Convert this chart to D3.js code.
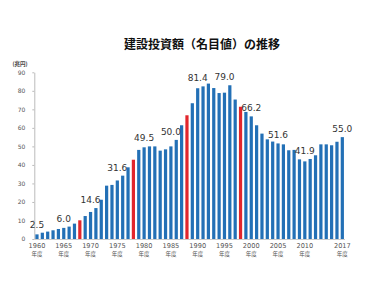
<!DOCTYPE html>
<html>
<head>
<meta charset="utf-8">
<script src="https://cdn.jsdelivr.net/npm/d3@7"></script>
<style>
	body { margin: 0; background: #fff; }
	svg { display: block; }
</style>
</head>
<body>
<div id="chart"></div>
<script>
// fiscal years shown as bars
var years = d3.range(1960, 2018);

// construction investment, nominal (trillion yen)
var values = [
	2.5, 3.4, 4.0, 4.7, 5.4,
	6.0, 6.7, 8.3, 10.1, 12.4,
	14.6, 16.7, 21.2, 28.8, 29.2,
	31.6, 34.2, 38.7, 42.8, 48.1,
	49.5, 50.0, 50.0, 47.7, 48.4,
	50.0, 53.5, 61.4, 66.8, 73.3,
	81.4, 82.4, 83.9, 81.5, 78.8,
	79.0, 83.0, 75.3, 71.4, 68.6,
	66.2, 61.4, 56.9, 53.8, 52.6,
	51.6, 51.1, 47.9, 48.1, 43.0,
	41.9, 43.2, 45.2, 51.1, 51.1,
	50.6, 52.5, 55.0
];

var redYears = [1968, 1978, 1988, 1998];
var labelYears = [1960, 1965, 1970, 1975, 1980, 1985, 1990, 1995, 2000, 2005, 2010, 2017];
var tickYears = [1960, 1965, 1970, 1975, 1980, 1985, 1990, 1995, 2000, 2005, 2010, 2017];
var yTicks = [0, 10, 20, 30, 40, 50, 60, 70, 80, 90];

var title = "建設投資額（名目値）の推移";
var unit = "(兆円)";
var yearSuffix = "年度";

var width = 384, height = 298;

var svg = d3.select("#chart").append("svg")
	.attr("width", width)
	.attr("height", height);

var x = d3.scaleBand()
	.domain(years)
	.range([34.3, 345])
	.paddingInner(0.4)
	.paddingOuter(0.2);

var y = d3.scaleLinear()
	.domain([0, 90])
	.range([239, 72.3]);

// title
svg.append("text")
	.attr("x", 202)
	.attr("y", 43)
	.attr("dominant-baseline", "central")
	.attr("text-anchor", "middle")
	.attr("font-family", "'Noto Sans CJK JP', sans-serif")
	.attr("font-weight", "bold")
	.attr("font-size", "12px")
	.attr("fill", "#111")
	.text(title);

// unit
svg.append("text")
	.attr("x", 20)
	.attr("y", 64)
	.attr("dominant-baseline", "central")
	.attr("text-anchor", "middle")
	.attr("font-family", "'Noto Sans CJK JP', sans-serif")
	.attr("font-weight", "bold")
	.attr("font-size", "5.5px")
	.attr("fill", "#444")
	.text(unit);

// y axis
var yAxis = svg.append("g")
	.attr("transform", "translate(" + x.range()[0] + ",0)")
	.call(d3.axisLeft(y).tickValues(yTicks).tickSize(2).tickPadding(7).tickSizeOuter(0));
yAxis.select(".domain").attr("stroke", "#bbb");
yAxis.selectAll(".tick line").attr("stroke", "#bbb");
yAxis.selectAll("text")
	.attr("font-family", "'DejaVu Sans', sans-serif")
	.attr("font-size", "6px")
	.attr("fill", "#555");

// baseline
svg.append("line")
	.attr("x1", x.range()[0])
	.attr("x2", x.range()[1])
	.attr("y1", y(0) + 0.5)
	.attr("y2", y(0) + 0.5)
	.attr("stroke", "#ccc");

// bars
svg.selectAll("rect.bar")
	.data(years)
	.enter().append("rect")
	.attr("class", "bar")
	.attr("x", function(d) { return x(d); })
	.attr("width", x.bandwidth())
	.attr("y", function(d, i) { return y(values[i]); })
	.attr("height", function(d, i) { return y(0) - y(values[i]); })
	.attr("fill", function(d) { return redYears.indexOf(d) >= 0 ? "#e2262c" : "#2370b6"; });

// value labels, lifted above the taller of the bar and its right neighbour
svg.selectAll("text.val")
	.data(labelYears)
	.enter().append("text")
	.attr("class", "val")
	.attr("x", function(d) { return x(d) + x.bandwidth() / 2; })
	.attr("y", function(d) {
		var i = years.indexOf(d);
		var v = values[i];
		if (i + 1 < values.length) v = Math.max(v, values[i + 1]);
		return y(v) - 8;
	})
	.attr("dominant-baseline", "central")
	.attr("text-anchor", "middle")
	.attr("font-family", "'DejaVu Sans', sans-serif")
	.attr("font-size", "9px")
	.attr("fill", "#333")
	.text(function(d) { return values[years.indexOf(d)].toFixed(1); });

// x tick labels
var xt = svg.selectAll("g.xt")
	.data(tickYears)
	.enter().append("g")
	.attr("class", "xt")
	.attr("transform", function(d) { return "translate(" + (x(d) + x.bandwidth() / 2) + ",0)"; });

xt.append("text")
	.attr("y", 245.7)
	.attr("dominant-baseline", "central")
	.attr("text-anchor", "middle")
	.attr("font-family", "'DejaVu Sans', sans-serif")
	.attr("font-size", "6.6px")
	.attr("fill", "#555")
	.text(function(d) { return d; });

xt.append("text")
	.attr("y", 254.3)
	.attr("dominant-baseline", "central")
	.attr("text-anchor", "middle")
	.attr("font-family", "'Noto Sans CJK JP', sans-serif")
	.attr("font-size", "5.5px")
	.attr("fill", "#555")
	.text(yearSuffix);
</script>
</body>
</html>
